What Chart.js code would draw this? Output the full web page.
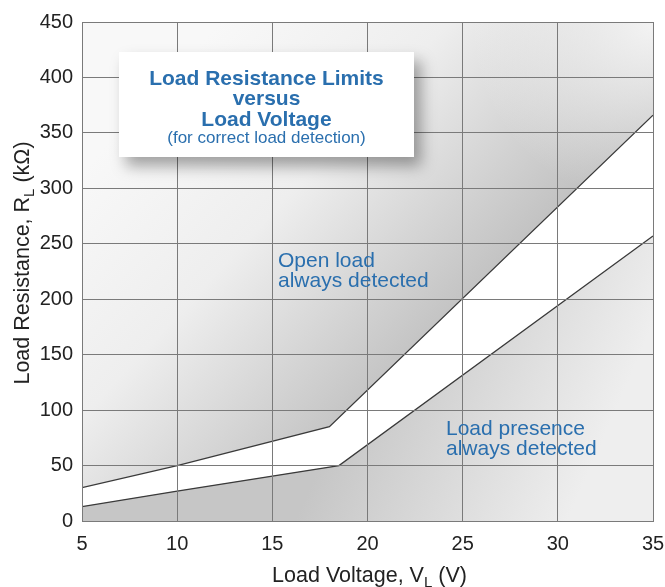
<!DOCTYPE html>
<html>
<head>
<meta charset="utf-8">
<script src="https://cdn.jsdelivr.net/npm/chart.js@4.4.1/dist/chart.umd.min.js"></script>
<style>
  html,body{margin:0;padding:0;background:#fff;}
  #wrap{position:relative;width:665px;height:587px;font-family:"Liberation Sans",Arial,sans-serif;}
  canvas{position:absolute;left:0;top:0;}
  .box{position:absolute;left:119px;top:52px;width:295px;height:105px;background:#fff;
       box-shadow:7px 9px 14px rgba(0,0,0,0.35);text-align:center;color:#2a6fae;}
  .box .t{font-weight:bold;font-size:21px;line-height:20.5px;}
  .box .s{font-size:17px;line-height:18.5px;}
  .lbl{position:absolute;color:#2a6fae;font-size:21px;line-height:20px;white-space:nowrap;}
</style>
</head>
<body>
<div id="wrap">
  <canvas id="c" width="665" height="587"></canvas>
  <div class="box"><div style="height:15.5px"></div>
    <div class="t">Load Resistance Limits</div>
    <div class="t">versus</div>
    <div class="t">Load Voltage</div>
    <div class="s">(for correct load detection)</div>
  </div>
  <div class="lbl" style="left:278px;top:249.5px;">Open load<br>always detected</div>
  <div class="lbl" style="left:446px;top:417.5px;">Load presence<br>always detected</div>
</div>
<script>
// Data
const upperVoltage = [5, 10, 18, 35];
const upperResistance = [30, 50, 85, 366];
const lowerVoltage = [5, 10, 18.5, 35];
const lowerResistance = [13, 27, 50, 257];
const xTicks = [5, 10, 15, 20, 25, 30, 35];
const yTicks = [0, 50, 100, 150, 200, 250, 300, 350, 400, 450];

const toPoints = (xs, ys) => xs.map((x, i) => ({x: x, y: ys[i]}));

const FONT = '"Liberation Sans", Arial, sans-serif';

const bgPlugin = {
  id: 'bg',
  beforeDraw(chart) {
    const {ctx, chartArea: a} = chart;
    const w = a.right - a.left, h = a.bottom - a.top;
    const g = ctx.createLinearGradient(a.left + 0.12 * w, a.top + 0.15 * h, a.left + 0.6 * w, a.top + 0.66 * h);
    g.addColorStop(0, '#f8f8f8');
    g.addColorStop(0.45, '#eeeeee');
    g.addColorStop(1, '#c2c2c2');
    ctx.save();
    ctx.fillStyle = g;
    ctx.fillRect(a.left, a.top, w, h);
    const r = ctx.createRadialGradient(a.right, a.top, 0, a.right, a.top, 0.32 * w);
    r.addColorStop(0, 'rgba(245,245,245,0.95)');
    r.addColorStop(1, 'rgba(245,245,245,0)');
    ctx.fillStyle = r;
    ctx.fillRect(a.left, a.top, w, h);
    ctx.restore();
  },
  afterDraw(chart) {
    const {ctx, chartArea: a} = chart;
    ctx.save();
    ctx.fillStyle = '#222';
    ctx.textBaseline = 'alphabetic';
    const drawSub = (parts, cx, cy) => {
      ctx.font = '21.5px ' + FONT;
      const w1 = ctx.measureText(parts[0]).width;
      const w3 = ctx.measureText(parts[2]).width;
      ctx.font = '15px ' + FONT;
      const w2 = ctx.measureText(parts[1]).width;
      let x = cx - (w1 + w2 + w3) / 2;
      ctx.textAlign = 'left';
      ctx.font = '21.5px ' + FONT;
      ctx.fillText(parts[0], x, cy); x += w1;
      ctx.font = '15px ' + FONT;
      ctx.fillText(parts[1], x, cy + 5); x += w2;
      ctx.font = '21.5px ' + FONT;
      ctx.fillText(parts[2], x, cy);
    };
    drawSub(['Load Voltage, V', 'L', ' (V)'], (a.left + a.right) / 2 + 2, 582);
    ctx.translate(29, 263);
    ctx.rotate(-Math.PI / 2);
    drawSub(['Load Resistance, R', 'L', ' (k\u03A9)'], 0, 0);
    ctx.restore();
  }
};

const ctx = document.getElementById('c').getContext('2d');
new Chart(ctx, {
  type: 'scatter',
  data: {
    datasets: [
      {
        label: 'Lower limit',
        data: toPoints(lowerVoltage, lowerResistance),
        showLine: true,
        borderColor: '#3a3a3a',
        borderWidth: 1.3,
        pointRadius: 0,
        tension: 0,
        fill: 'start',
        backgroundColor: (c) => {
          const a = c.chart.chartArea;
          if (!a) return '#d8d8d8';
          const w = a.right - a.left, h = a.bottom - a.top;
          const g = c.chart.ctx.createLinearGradient(a.left + 0.45 * w, a.top + 0.8 * h, a.left + 0.85 * w, a.bottom);
          g.addColorStop(0, '#c6c6c6');
          g.addColorStop(1, '#eeeeee');
          return g;
        }
      },
      {
        label: 'Upper limit',
        data: toPoints(upperVoltage, upperResistance),
        showLine: true,
        borderColor: '#3a3a3a',
        borderWidth: 1.3,
        pointRadius: 0,
        tension: 0,
        fill: '-1',
        backgroundColor: '#ffffff'
      }
    ]
  },
  options: {
    responsive: false,
    animation: false,
    devicePixelRatio: 1,
    layout: {padding: {top: 22, right: 12, left: 0, bottom: 0}},
    plugins: {legend: {display: false}, tooltip: {enabled: false}},
    scales: {
      x: {
        type: 'linear', min: 5, max: 35,
        afterBuildTicks: (s) => { s.ticks = xTicks.map(v => ({value: v})); },
        afterFit: (s) => { s.height = 66; s.paddingRight = 0; s.paddingLeft = 0; },
        ticks: {color: '#222', font: {size: 20, family: FONT}, padding: 11},
        grid: {color: '#7a7a7a', lineWidth: 1, drawTicks: false, z: 1},
        border: {color: '#7a7a7a', z: 1}
      },
      y: {
        type: 'linear', min: 0, max: 450,
        afterBuildTicks: (s) => { s.ticks = yTicks.map(v => ({value: v})); },
        afterFit: (s) => { s.width = 82; s.paddingTop = 0; s.paddingBottom = 0; },
        ticks: {color: '#222', font: {size: 20, family: FONT}, padding: 9},
        grid: {color: '#7a7a7a', lineWidth: 1, drawTicks: false, z: 1},
        border: {color: '#7a7a7a', z: 1}
      }
    }
  },
  plugins: [bgPlugin]
});
</script>
</body>
</html>
